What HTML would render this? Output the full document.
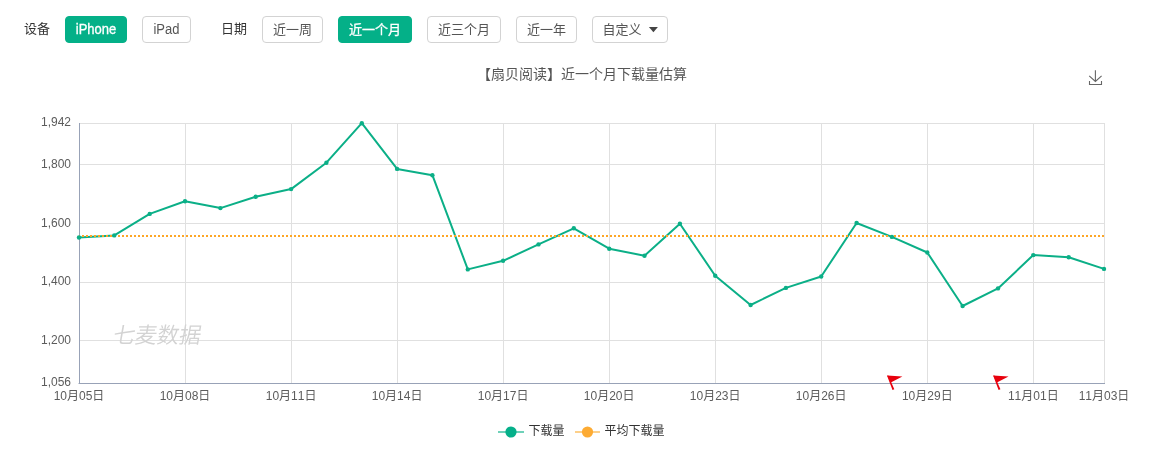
<!DOCTYPE html>
<html lang="zh-CN">
<head>
<meta charset="utf-8">
<title>下载量估算</title>
<style>
html,body{margin:0;padding:0;background:#fff;}
body{width:1163px;height:455px;position:relative;overflow:hidden;font-family:"Liberation Sans","Noto Sans CJK SC",sans-serif;font-size:13px;color:#4a4a4a;}
.lbl{position:absolute;top:16px;height:27px;line-height:26px;color:#333;}
.btn{position:absolute;top:16px;height:27px;box-sizing:border-box;border:1px solid #d3d3d3;border-radius:4px;line-height:25px;text-align:center;color:#555;background:#fff;white-space:nowrap;}
.btn.on{background:#04b088;border-color:#04b088;color:#fff;-webkit-text-stroke:0.3px #fff;}
.lat{display:inline-block;transform:scaleY(1.06);transform-origin:50% 72%;}
.title{position:absolute;left:0;width:1164px;top:64px;line-height:20px;text-align:center;font-size:14px;color:#555;}
svg{position:absolute;left:0;top:0;}
svg text{font-family:"Liberation Sans","Noto Sans CJK SC",sans-serif;font-size:12px;fill:#5c5c5c;font-kerning:none;}
</style>
</head>
<body>
<div class="lbl" style="left:24px">设备</div>
<div class="btn on" style="left:65px;width:62px"><span class="lat">iPhone</span></div>
<div class="btn" style="left:142px;width:49px"><span class="lat">iPad</span></div>
<div class="lbl" style="left:221px">日期</div>
<div class="btn" style="left:262px;width:61px">近一周</div>
<div class="btn on" style="left:338px;width:74px">近一个月</div>
<div class="btn" style="left:427px;width:74px">近三个月</div>
<div class="btn" style="left:516px;width:61px">近一年</div>
<div class="btn" style="left:592px;width:76px;text-align:left;padding-left:9.6px">自定义</div>
<div class="title">【扇贝阅读】近一个月下载量估算</div>
<svg width="1163" height="455" viewBox="0 0 1163 455">
<g stroke="#e0e0e0" stroke-width="1" fill="none" shape-rendering="crispEdges">
<line x1="79.5" y1="123.5" x2="1104.5" y2="123.5"/>
<line x1="79.5" y1="164.5" x2="1104.5" y2="164.5"/>
<line x1="79.5" y1="223.5" x2="1104.5" y2="223.5"/>
<line x1="79.5" y1="282.5" x2="1104.5" y2="282.5"/>
<line x1="79.5" y1="340.5" x2="1104.5" y2="340.5"/>
<line x1="185.5" y1="123.5" x2="185.5" y2="383.5"/>
<line x1="291.5" y1="123.5" x2="291.5" y2="383.5"/>
<line x1="397.5" y1="123.5" x2="397.5" y2="383.5"/>
<line x1="503.5" y1="123.5" x2="503.5" y2="383.5"/>
<line x1="609.5" y1="123.5" x2="609.5" y2="383.5"/>
<line x1="715.5" y1="123.5" x2="715.5" y2="383.5"/>
<line x1="821.5" y1="123.5" x2="821.5" y2="383.5"/>
<line x1="927.5" y1="123.5" x2="927.5" y2="383.5"/>
<line x1="1033.5" y1="123.5" x2="1033.5" y2="383.5"/>
<line x1="1104.5" y1="123.5" x2="1104.5" y2="383.5"/>
</g>
<text x="0" y="0" transform="translate(112,342.7) skewX(-10)" style="font-size:22px;font-weight:350;fill:#d3d3d3">七麦数据</text>
<g stroke="#98a2b7" stroke-width="1" fill="none" shape-rendering="crispEdges">
<line x1="79.5" y1="122.5" x2="79.5" y2="383.5"/>
<line x1="79.5" y1="383.5" x2="1104.5" y2="383.5"/>
</g>
<rect x="78" y="383" width="1" height="1" fill="#cfd4de"/>
<polyline points="79.0,237.5 114.3,235.4 149.7,213.9 185.0,201.3 220.4,208.1 255.7,196.8 291.1,189.1 326.4,162.7 361.8,123.2 397.1,168.9 432.4,175.2 467.8,269.4 503.1,260.8 538.5,244.4 573.8,228.3 609.2,248.7 644.5,255.7 679.9,223.7 715.2,275.7 750.6,305.0 785.9,287.9 821.2,276.5 856.6,223.0 891.9,236.9 927.3,252.5 962.6,306.0 998.0,288.4 1033.3,255.1 1068.7,257.3 1104.0,268.9" fill="none" stroke="#0baf87" stroke-width="2" stroke-linejoin="round"/>
<line x1="79" y1="236" x2="1104.5" y2="236" stroke="#fda626" stroke-width="2" stroke-dasharray="2 2" stroke-dashoffset="1"/>
<g fill="#0baf87">
<circle cx="79.0" cy="237.5" r="2.2"/>
<circle cx="114.3" cy="235.4" r="2.2"/>
<circle cx="149.7" cy="213.9" r="2.2"/>
<circle cx="185.0" cy="201.3" r="2.2"/>
<circle cx="220.4" cy="208.1" r="2.2"/>
<circle cx="255.7" cy="196.8" r="2.2"/>
<circle cx="291.1" cy="189.1" r="2.2"/>
<circle cx="326.4" cy="162.7" r="2.2"/>
<circle cx="361.8" cy="123.2" r="2.2"/>
<circle cx="397.1" cy="168.9" r="2.2"/>
<circle cx="432.4" cy="175.2" r="2.2"/>
<circle cx="467.8" cy="269.4" r="2.2"/>
<circle cx="503.1" cy="260.8" r="2.2"/>
<circle cx="538.5" cy="244.4" r="2.2"/>
<circle cx="573.8" cy="228.3" r="2.2"/>
<circle cx="609.2" cy="248.7" r="2.2"/>
<circle cx="644.5" cy="255.7" r="2.2"/>
<circle cx="679.9" cy="223.7" r="2.2"/>
<circle cx="715.2" cy="275.7" r="2.2"/>
<circle cx="750.6" cy="305.0" r="2.2"/>
<circle cx="785.9" cy="287.9" r="2.2"/>
<circle cx="821.2" cy="276.5" r="2.2"/>
<circle cx="856.6" cy="223.0" r="2.2"/>
<circle cx="891.9" cy="236.9" r="2.2"/>
<circle cx="927.3" cy="252.5" r="2.2"/>
<circle cx="962.6" cy="306.0" r="2.2"/>
<circle cx="998.0" cy="288.4" r="2.2"/>
<circle cx="1033.3" cy="255.1" r="2.2"/>
<circle cx="1068.7" cy="257.3" r="2.2"/>
<circle cx="1104.0" cy="268.9" r="2.2"/>
</g>
<g id="ylabels">
<text x="71" y="125.5" text-anchor="end">1,942</text>
<text x="71" y="167.5" text-anchor="end">1,800</text>
<text x="71" y="226.5" text-anchor="end">1,600</text>
<text x="71" y="284.5" text-anchor="end">1,400</text>
<text x="71" y="343.8" text-anchor="end">1,200</text>
<text x="71" y="385.5" text-anchor="end">1,056</text>
</g>
<g id="xlabels">
<text x="79.0" y="400" text-anchor="middle">10月05日</text>
<text x="185.0" y="400" text-anchor="middle">10月08日</text>
<text x="291.1" y="400" text-anchor="middle">10月11日</text>
<text x="397.1" y="400" text-anchor="middle">10月14日</text>
<text x="503.1" y="400" text-anchor="middle">10月17日</text>
<text x="609.2" y="400" text-anchor="middle">10月20日</text>
<text x="715.2" y="400" text-anchor="middle">10月23日</text>
<text x="821.2" y="400" text-anchor="middle">10月26日</text>
<text x="927.3" y="400" text-anchor="middle">10月29日</text>
<text x="1033.3" y="400" text-anchor="middle">11月01日</text>
<text x="1104.0" y="400" text-anchor="middle">11月03日</text>
</g>
<g id="flags" fill="#e8000d" stroke="none">
<g transform="translate(887.1,375.6)"><path d="M0 0 L15.3 0.8 L3.7 7 Z"/><path d="M0 0.2 L1.2 0 L7.2 13.7 L5.4 14.3 Z"/></g>
<g transform="translate(993.2,375.6)"><path d="M0 0 L15.3 0.8 L3.7 7 Z"/><path d="M0 0.2 L1.2 0 L7.2 13.7 L5.4 14.3 Z"/></g>
</g>
<g id="legend">
<line x1="498" y1="432" x2="524" y2="432" stroke="#6fd1b9" stroke-width="2"/>
<circle cx="511" cy="432" r="5.6" fill="#05b08a"/>
<text x="528.4" y="435" style="fill:#333">下载量</text>
<line x1="575" y1="432" x2="600" y2="432" stroke="#fdd08a" stroke-width="2"/>
<circle cx="587.5" cy="432" r="5.6" fill="#fdab33"/>
<text x="604.4" y="435" style="fill:#333">平均下载量</text>
</g>
<path id="caret" d="M648.9 27 H657.9 L653.4 32.2 Z" fill="#444"/>
<g id="dl" stroke="#666" stroke-width="1.1" fill="none">
<path d="M1095.4 70.3 V81.5 M1089.2 75.8 L1095.4 81.5 L1101.6 75.8 M1089.5 81 V84.5 H1101.5 V81"/>
</g>
</svg>
</body>
</html>
